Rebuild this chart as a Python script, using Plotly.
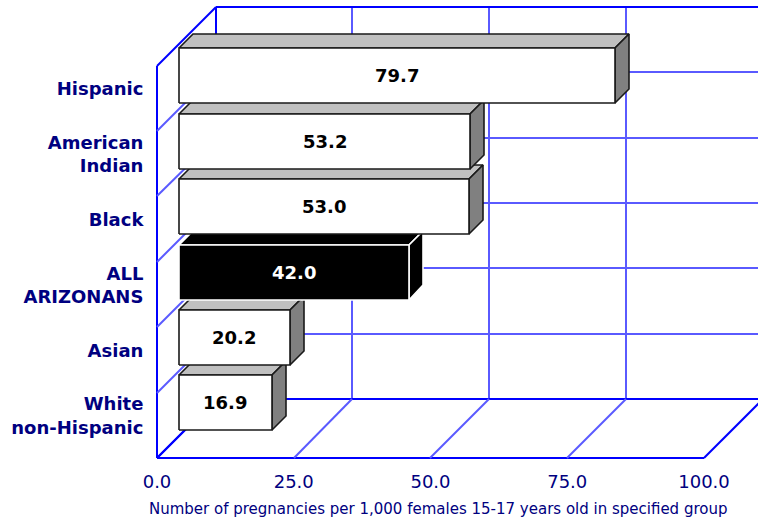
import plotly.graph_objects as go

# Teen pregnancy rates by group (bottom to top)
categories = ["White<br>non-Hispanic", "Asian", "ALL<br>ARIZONANS", "Black", "American<br>Indian", "Hispanic"]
rates = [16.9, 20.2, 42.0, 53.0, 53.2, 79.7]
highlight = [False, False, True, False, False, False]
x_ticks = [0, 25, 50, 75, 100]
x_tick_labels = ["0.0", "25.0", "50.0", "75.0", "100.0"]
axis_title = "Number of pregnancies per 1,000 females 15-17 years old in specified group"

# Oblique 3-D projection: moving back in depth shifts a point right and up
DEPTH_X = 10.7          # value units for full depth
DEPTH_Y = 0.9           # category units for full depth
BAR_FRONT, BAR_BACK = 0.38, 0.62
BAR_LO, BAR_HI = 0.08, 0.92
VMAX = 100
N = len(categories)

# pixel layout of the plotting frame
W, H = 758, 518
X0_PX, PX_PER_VAL = 157, 5.47
Y0_PX, PX_PER_CAT = 458, 65.4
PLOT_L, PLOT_R, PLOT_T, PLOT_B = 150, 758, 3, 464

GRID = "#5a5aff"
FRAME = "#0000FF"
NAVY = "#000080"
FONT = "DejaVu Sans"


def proj(v, y, d, snap=True):
    """Project (value, category, depth) onto the 2-D axes; optionally snap to whole pixels."""
    x, yy = v + d * DEPTH_X, y + d * DEPTH_Y
    if not snap:
        return x, yy
    px = round(X0_PX + x * PX_PER_VAL)
    py = round(Y0_PX - yy * PX_PER_CAT)
    return (px - X0_PX) / PX_PER_VAL, (Y0_PX - py) / PX_PER_CAT


fig = go.Figure()


def seg(p, q, outer=False):
    (x0, y0), (x1, y1) = proj(*p), proj(*q)
    fig.add_trace(go.Scatter(x=[x0, x1], y=[y0, y1], mode="lines",
                             line=dict(color=FRAME if outer else GRID, width=2),
                             hoverinfo="skip", showlegend=False))


# back wall
for v in x_ticks:
    seg((v, 0, 1), (v, N, 1), v == 0)
for k in range(N + 1):
    seg((0, k, 1), (VMAX + 20, k, 1), k in (0, N))
# left side wall
seg((0, 0, 0), (0, N, 0), True)
for k in range(N + 1):
    seg((0, k, 0), (0, k, 1), k in (0, N))
# floor
seg((0, 0, 0), (VMAX, 0, 0), True)
for v in x_ticks:
    seg((v, 0, 0), (v, 0, 1), v in (0, VMAX))


def face(pts, fill, edge):
    xs, ys = zip(*[proj(*p) for p in pts + pts[:1]])
    fig.add_trace(go.Scatter(x=list(xs), y=list(ys), mode="lines", fill="toself",
                             fillcolor=fill, line=dict(color=edge, width=1.6),
                             hoverinfo="skip", showlegend=False))


annotations = []
for k, (v, hl) in enumerate(zip(rates, highlight)):
    lo, hi = k + BAR_LO, k + BAR_HI
    f1, f2 = BAR_FRONT, BAR_BACK
    if hl:
        top_c, side_c, front_c, edge, txt = "#000000", "#000000", "#000000", "#FFFFFF", "#FFFFFF"
    else:
        top_c, side_c, front_c, edge, txt = "#C0C0C0", "#808080", "#FFFFFF", "#1a1a1a", "#000000"
    face([(0, hi, f1), (v, hi, f1), (v, hi, f2), (0, hi, f2)], top_c, edge)
    face([(v, lo, f1), (v, hi, f1), (v, hi, f2), (v, lo, f2)], side_c, edge)
    face([(0, lo, f1), (v, lo, f1), (v, hi, f1), (0, hi, f1)], front_c, edge)
    cx, cy = proj(v / 2, k + 0.5, f1, snap=False)
    annotations.append(dict(x=cx, y=cy, xref="x", yref="y", text=f"{v:.1f}", showarrow=False,
                            font=dict(family=FONT, size=18, color=txt, weight="bold")))

# axis title sits below the tick labels
annotations.append(dict(x=(438 - PLOT_L) / (PLOT_R - PLOT_L), y=(PLOT_B - 509) / (PLOT_B - PLOT_T),
                        xref="paper", yref="paper", text=axis_title, showarrow=False,
                        xanchor="center", yanchor="middle",
                        font=dict(family=FONT, size=15, color=NAVY)))

fig.update_layout(
    width=W, height=H,
    margin=dict(l=PLOT_L, r=W - PLOT_R, t=PLOT_T, b=H - PLOT_B, pad=0),
    paper_bgcolor="white", plot_bgcolor="white",
    annotations=annotations, showlegend=False,
    xaxis=dict(range=[(PLOT_L - X0_PX) / PX_PER_VAL, (PLOT_R - X0_PX) / PX_PER_VAL],
               tickvals=x_ticks, ticktext=x_tick_labels, showgrid=False, zeroline=False,
               showline=False, ticks="outside", ticklen=1, tickcolor="rgba(0,0,0,0)",
               tickfont=dict(family=FONT, size=18, color=NAVY), fixedrange=True),
    yaxis=dict(range=[(Y0_PX - PLOT_B) / PX_PER_CAT, (Y0_PX - PLOT_T) / PX_PER_CAT],
               tickvals=[k + 0.5 + 9.5 / PX_PER_CAT for k in range(N)], ticktext=categories,
               showgrid=False, zeroline=False, showline=False,
               ticks="outside", ticklen=2, tickcolor="rgba(0,0,0,0)",
               tickfont=dict(family=FONT, size=18, color=NAVY, weight="bold"), fixedrange=True),
)

fig.write_html("out.html", config={"displayModeBar": False})
